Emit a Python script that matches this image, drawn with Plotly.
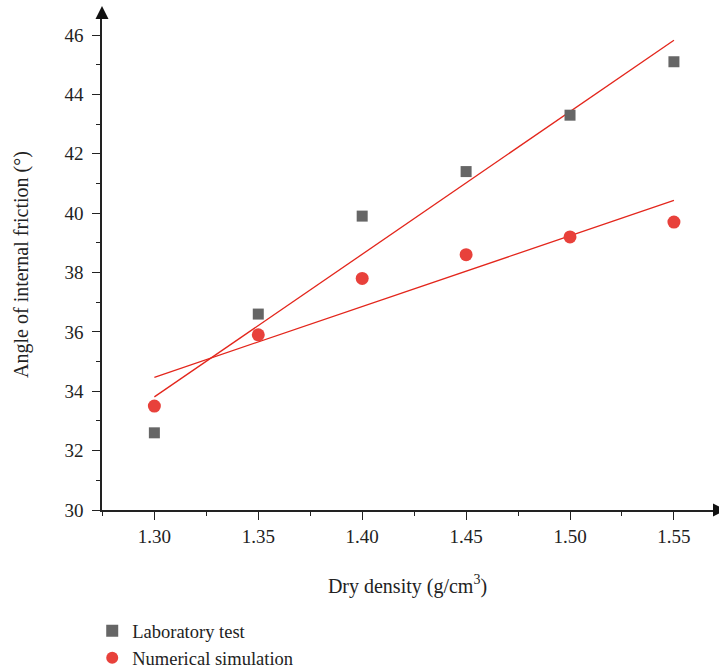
import numpy as np
import plotly.graph_objects as go

density = [1.30, 1.35, 1.40, 1.45, 1.50, 1.55]
lab_test = [32.6, 36.6, 39.9, 41.4, 43.3, 45.1]
num_sim = [33.5, 35.9, 37.8, 38.6, 39.2, 39.7]
x_ticks = [1.30, 1.35, 1.40, 1.45, 1.50, 1.55]
x_tick_labels = ["1.30", "1.35", "1.40", "1.45", "1.50", "1.55"]
y_ticks = [30, 32, 34, 36, 38, 40, 42, 44, 46]

FONT = "Liberation Serif"
GREY = "#666666"
RED = "#e8413b"
LINE_RED = "#e3261c"
INK = "#222222"

def fit(x, y):
    k, b = np.polyfit(x, y, 1)
    xs = np.array([min(x), max(x)])
    return xs, k * xs + b

fig = go.Figure()
fx, fy = fit(density, lab_test)
fig.add_trace(go.Scatter(x=fx, y=fy, mode="lines", line=dict(color=LINE_RED, width=1.3),
                         showlegend=False, hoverinfo="skip"))
fx2, fy2 = fit(density, num_sim)
fig.add_trace(go.Scatter(x=fx2, y=fy2, mode="lines", line=dict(color=LINE_RED, width=1.3),
                         showlegend=False, hoverinfo="skip"))
fig.add_trace(go.Scatter(x=density, y=lab_test, mode="markers", name="Laboratory test",
                         marker=dict(symbol="square", size=11, color=GREY)))
fig.add_trace(go.Scatter(x=density, y=num_sim, mode="markers", name="Numerical simulation",
                         marker=dict(symbol="circle", size=13, color=RED)))

axis_common = dict(showline=True, linecolor=INK, linewidth=1.5, showgrid=False,
                   zeroline=False, ticks="outside", tickcolor=INK, tickwidth=1.3,
                   ticklen=8, tickfont=dict(family=FONT, size=19, color=INK))

fig.update_xaxes(**axis_common, ticklabelstandoff=0, range=[1.2748, 1.5688],
                 tickvals=x_ticks, ticktext=x_tick_labels,
                 minor=dict(ticks="outside", ticklen=4, dtick=0.025, tick0=1.275,
                            tickcolor=INK, tickwidth=1.3),
                 title=dict(text="Dry density (g/cm<sup>3</sup>)", standoff=33,
                            font=dict(family=FONT, size=20, color=INK)))
fig.update_yaxes(**axis_common, ticklabelstandoff=5, range=[30, 46.54], tickvals=y_ticks,
                 minor=dict(ticks="outside", ticklen=4, dtick=1, tick0=30,
                            tickcolor=INK, tickwidth=1.3),
                 title=dict(text="Angle of internal friction (°)", standoff=30,
                            font=dict(family=FONT, size=20, color=INK)))

# axis arrowheads
fig.add_shape(type="path", xref="paper", yref="paper", xsizemode="pixel", ysizemode="pixel",
              xanchor=0, yanchor=1, path="M -6.5 0 L 6.5 0 L 0 13 Z",
              fillcolor="#111111", line=dict(width=0))
fig.add_shape(type="path", xref="paper", yref="paper", xsizemode="pixel", ysizemode="pixel",
              xanchor=1, yanchor=0, path="M 0 -6.5 L 0 6.5 L 13 0 Z",
              fillcolor="#111111", line=dict(width=0))

fig.update_layout(
    width=719, height=672,
    margin=dict(l=102, r=6, t=19, b=162, autoexpand=False),
    plot_bgcolor="white", paper_bgcolor="white",
    legend=dict(x=-0.016, y=-0.208, xanchor="left", yanchor="top", orientation="v",
                font=dict(family=FONT, size=18.5, color=INK), itemsizing="constant",
                tracegroupgap=0, bgcolor="rgba(0,0,0,0)"),
)
fig.write_html("out.html")
